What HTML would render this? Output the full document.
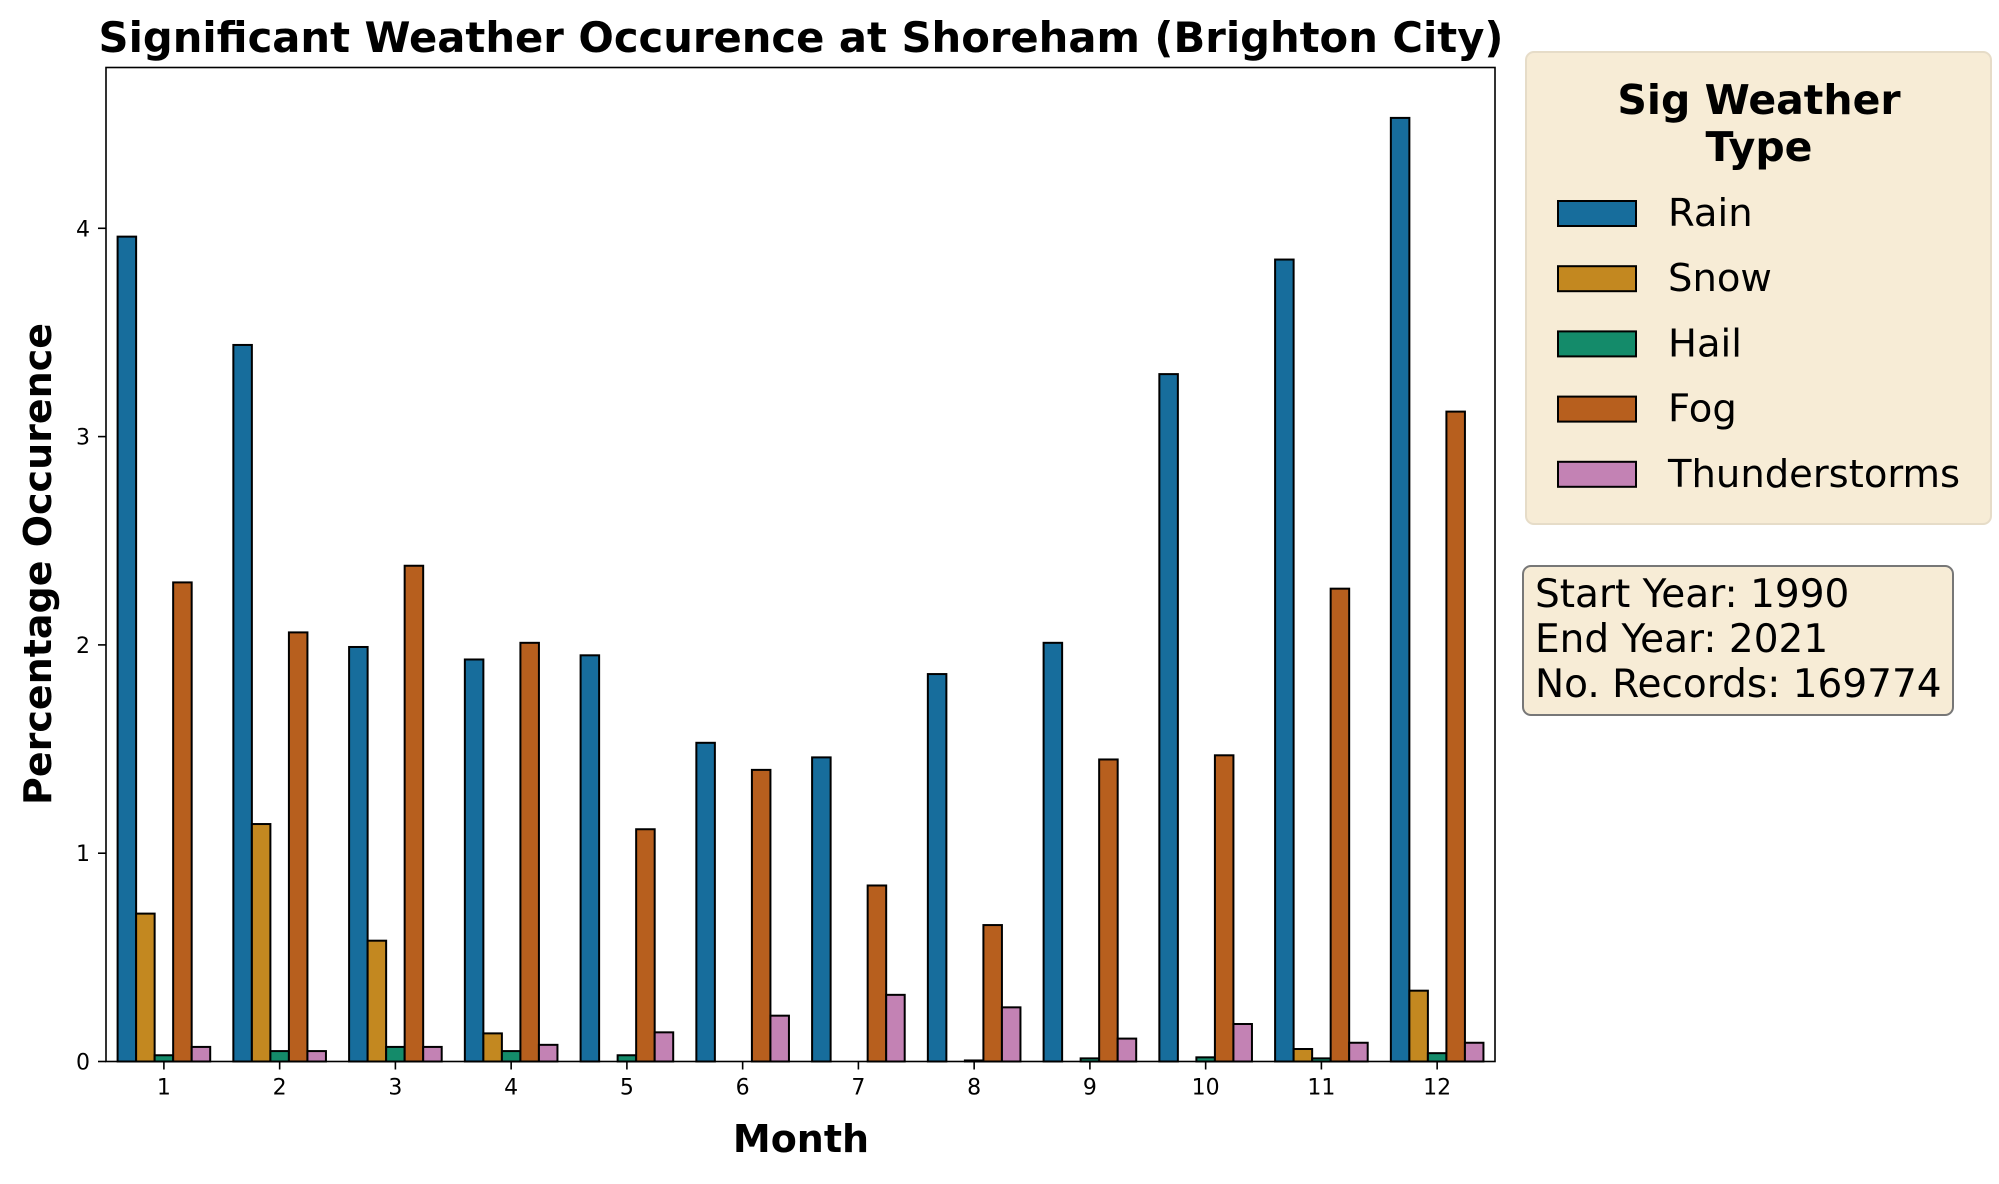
<!DOCTYPE html>
<html><head><meta charset="utf-8"><style>
html,body{margin:0;padding:0;background:#fff;}
svg text{font-family:"DejaVu Sans","Liberation Sans",sans-serif;}
</style></head><body>
<svg id="s" width="1999" height="1179" xmlns="http://www.w3.org/2000/svg">
<rect width="1999" height="1179" fill="#fff"/>
<g id="bars"></g>
<rect x="106" y="67.5" width="1389" height="994" fill="none" stroke="#000" stroke-width="1.6"/>
<text x="801" y="52" text-anchor="middle" font-size="41.7" font-weight="bold">Significant Weather Occurence at Shoreham (Brighton City)</text>
<text x="801" y="1152" text-anchor="middle" font-size="38" font-weight="bold">Month</text>
<text transform="translate(51,564) rotate(-90)" text-anchor="middle" font-size="38" font-weight="bold">Percentage Occurence</text>
<g id="ticks" font-size="22"></g>
<rect x="1526" y="52" width="465" height="472" rx="8" fill="#f7ecd6" stroke="#e6dcc8" stroke-width="2"/>
<text x="1759" y="114" text-anchor="middle" font-size="41" font-weight="bold">Sig Weather</text>
<text x="1759" y="161" text-anchor="middle" font-size="41" font-weight="bold">Type</text>
<g id="leg" font-size="38.5"></g>
<rect x="1523" y="566" width="430" height="149" rx="8" fill="#f7ecd6" stroke="#777" stroke-width="2"/>
<text x="1535" y="607" font-size="39">Start Year: 1990</text>
<text x="1535" y="652" font-size="39">End Year: 2021</text>
<text x="1535" y="697" font-size="39">No. Records: 169774</text>
</svg>
<script>
var cols=["#176d9c","#c38820","#148b6a","#b75f1e","#c382b4"];
var names=["Rain","Snow","Hail","Fog","Thunderstorms"];
var d=[
[3.96,3.44,1.99,1.93,1.95,1.53,1.46,1.86,2.01,3.30,3.85,4.53],
[0.71,1.14,0.58,0.135,0,0,0,0,0,0,0.06,0.34],
[0.03,0.05,0.07,0.05,0.03,0,0,0.005,0.015,0.02,0.015,0.04],
[2.30,2.06,2.38,2.01,1.115,1.40,0.845,0.655,1.45,1.47,2.27,3.12],
[0.07,0.05,0.07,0.08,0.14,0.22,0.32,0.26,0.11,0.18,0.09,0.09]];
var ns="http://www.w3.org/2000/svg";
function el(p,t,a,txt){var e=document.createElementNS(ns,t);for(var k in a)e.setAttribute(k,a[k]);if(txt!==undefined)e.textContent=txt;p.appendChild(e);return e;}
var B=document.getElementById("bars"),T=document.getElementById("ticks"),L=document.getElementById("leg");
var y0=1061.5,u=208.3,sp=115.75,x1=163.9,bw=sp*0.16;
for(var m=0;m<12;m++){var c=x1+m*sp;
 for(var k=0;k<5;k++){var v=d[k][m];var x=c-sp*0.4+k*bw;var h=v*u;
  el(B,"rect",{x:x,y:y0-h,width:bw,height:h,fill:cols[k],stroke:"#000","stroke-width":2});}
 el(T,"line",{x1:c,x2:c,y1:y0,y2:y0+8,stroke:"#000","stroke-width":1.6});
 el(T,"text",{x:c,y:y0+33,"text-anchor":"middle"},String(m+1));}
for(var i=0;i<5;i++){var y=y0-i*u;
 el(T,"line",{x1:98,x2:106,y1:y,y2:y,stroke:"#000","stroke-width":1.6});
 el(T,"text",{x:90,y:y+8,"text-anchor":"end"},String(i));}
for(var k=0;k<5;k++){var y=213+k*65.2;
 el(L,"rect",{x:1558,y:y-12,width:78,height:25,fill:cols[k],stroke:"#000","stroke-width":2});
 el(L,"text",{x:1668,y:y+13},names[k]);}
</script>
</body></html>
